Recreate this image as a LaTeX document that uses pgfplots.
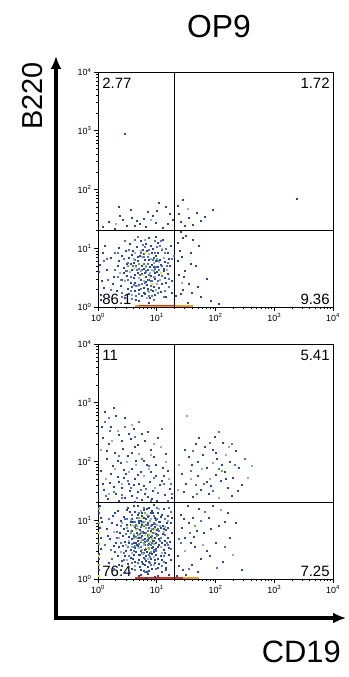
\documentclass[border=0pt]{standalone}
\usepackage{pgfplots}
\pgfplotsset{compat=1.18}
\usetikzlibrary{arrows.meta}
\usepackage{fontspec}
\setmainfont{Liberation Sans}
\definecolor{dk}{HTML}{2A45A8}
\definecolor{md}{HTML}{5570C2}
\definecolor{lt}{HTML}{97A8D6}
\definecolor{gr}{HTML}{5CC23A}
\definecolor{ye}{HTML}{F2E21C}
\definecolor{rd}{HTML}{E0301E}
\definecolor{orr}{HTML}{F0A020}
\newcommand{\tl}[1]{10\textsuperscript{#1}}
\tikzset{
  ql/.style={font=\fontsize{15}{16}\selectfont, fill=white, inner sep=1.2bp},
}
\pgfplotsset{
  pt/.style={only marks, mark=square*, mark size=0.5bp, color=#1, fill=#1, mark options={draw=none, fill=#1}},
  fc/.style={
    width=235bp, height=235bp, scale only axis,
    xmin=0, xmax=4, ymin=0, ymax=4,
    xtick={0,1,2,3,4}, ytick={0,1,2,3,4},
    xticklabels={\tl{0},\tl{1},\tl{2},\tl{3},\tl{4}},
    yticklabels={\tl{0},\tl{1},\tl{2},\tl{3},\tl{4}},
    minor xtick={0.301,0.477,0.602,0.699,0.778,0.845,0.903,0.954,1.301,1.477,1.602,1.699,1.778,1.845,1.903,1.954,2.301,2.477,2.602,2.699,2.778,2.845,2.903,2.954,3.301,3.477,3.602,3.699,3.778,3.845,3.903,3.954},
    minor ytick={0.301,0.477,0.602,0.699,0.778,0.845,0.903,0.954,1.301,1.477,1.602,1.699,1.778,1.845,1.903,1.954,2.301,2.477,2.602,2.699,2.778,2.845,2.903,2.954,3.301,3.477,3.602,3.699,3.778,3.845,3.903,3.954},
    xtick pos=bottom, ytick pos=left, tick align=outside,
    major tick length=4bp, minor tick length=2.2bp,
    every tick/.style={black, line width=0.6bp},
    axis line style={black, line width=0.8bp},
    tick label style={font=\fontsize{9}{10}\selectfont},
    xticklabel style={yshift=1bp},
    yticklabel style={xshift=1bp},
    clip=false,
  },
}
\begin{document}
\begin{tikzpicture}[x=1bp,y=1bp]
\useasboundingbox (0,0) rectangle (348,677);
% ---------------- top panel ----------------
\begin{axis}[fc, at={(98bp,370bp)}, anchor=south west]
\addplot[orr, line width=1.6bp] coordinates {(0.63,0.015)(1.62,0.015)};
\addplot[rd, line width=0.7bp] coordinates {(0.70,0.02)(1.30,0.02)};
\addplot[pt=dk] coordinates {
(0.62,0.55)(0.91,0.72)(0.78,0.33)(1.05,0.81)(0.44,0.67)(0.83,0.95)(0.97,0.48)(0.71,0.88)(1.12,0.62)(0.56,0.41)
(0.88,0.15)(0.66,1.02)(1.01,1.10)(0.35,0.79)(0.79,0.58)(0.93,0.27)(1.18,0.93)(0.52,0.22)(0.74,0.71)(1.08,0.39)
(0.27,0.51)(0.85,0.64)(0.99,0.87)(0.61,0.76)(0.47,0.95)(1.15,0.18)(0.69,0.29)(0.90,1.05)(0.81,0.43)(1.22,0.71)
(0.39,0.36)(0.76,0.98)(0.58,0.63)(1.03,0.55)(0.86,0.81)(0.64,0.12)(0.95,0.69)(0.21,0.84)(1.10,1.15)(0.73,0.47)
(0.48,0.73)(0.84,0.31)(1.26,0.45)(0.68,0.85)(0.96,0.58)(0.54,1.08)(0.80,0.22)(1.14,0.77)(0.31,0.28)(0.92,0.92)
(0.77,0.66)(1.06,0.26)(0.60,0.50)(0.87,1.18)(0.43,0.58)(1.19,0.57)(0.70,0.38)(0.98,0.78)(0.15,0.64)(0.82,0.52)
(0.57,0.89)(1.02,0.68)(0.75,0.19)(0.89,0.44)(0.36,1.01)(1.09,0.97)(0.65,0.70)(0.94,0.35)(0.50,0.31)(1.23,1.04)
(0.79,0.80)(0.62,0.27)(1.00,0.60)(0.41,0.47)(0.86,0.08)(0.72,1.12)(1.16,0.41)(0.55,0.74)(0.93,1.00)(0.25,0.40)
(0.83,0.38)(1.07,0.72)(0.67,0.59)(0.46,0.15)(0.97,0.21)(0.78,0.91)(1.20,0.83)(0.59,0.96)(0.90,0.53)(0.33,0.70)
(1.13,0.50)(0.74,0.56)(0.52,0.84)(0.99,1.20)(0.88,0.69)(0.63,0.42)(1.04,0.33)(0.40,0.88)(0.81,1.07)(0.70,0.10)
(0.95,0.84)(0.57,0.34)(1.25,0.25)(0.85,0.47)(0.19,0.18)(0.68,0.79)(1.11,0.66)(0.49,0.53)(0.77,0.24)(1.01,0.93)
(0.06,0.45)(0.03,0.72)(0.04,0.21)(0.08,0.93)(0.02,0.60)(0.10,0.33)(0.12,1.05)(0.05,0.12)
(0.08,1.37)(0.42,1.48)(0.55,1.66)(0.71,1.42)(0.93,1.55)(1.04,1.78)(0.28,1.33)(0.77,1.51)(1.15,1.71)(0.62,1.38)
(0.98,1.44)(1.22,1.58)(0.48,1.39)(0.85,1.62)(0.66,1.47)(1.10,1.35)(0.37,1.56)(1.27,1.49)(0.45,2.95)
(0.18,1.45)(0.58,1.52)(0.82,1.36)(1.00,1.64)(0.35,1.70)(1.19,1.42)
(1.35,1.72)(1.41,1.45)(1.55,1.52)(1.68,1.61)(1.47,1.38)(1.82,1.54)(1.62,1.40)(1.38,1.58)(1.95,1.66)(1.75,1.47)
(3.38,1.85)(1.45,1.83)
(1.35,1.10)(1.42,0.85)(1.50,1.22)(1.38,0.55)(1.58,0.92)(1.66,0.71)(1.45,0.30)(1.72,1.05)(1.33,0.20)(1.55,0.40)
(1.40,1.28)(1.62,1.15)(1.36,0.78)(1.48,0.62)(1.75,0.18)(1.85,0.48)(1.52,0.08)(1.39,0.95)(1.60,0.25)(1.44,1.18)
(2.05,0.05)(1.92,0.10)(1.46,0.52)(1.57,0.74)(1.40,0.22)(1.70,0.34)
};
\addplot[pt=md] coordinates {
(0.66,0.63)(0.84,0.86)(0.97,0.66)(0.75,0.40)(1.09,0.53)(0.59,0.71)(0.90,0.30)(0.79,1.03)(1.14,0.92)(0.51,0.46)
(0.70,0.22)(1.02,0.79)(0.87,0.55)(0.44,0.83)(1.20,0.35)(0.62,1.15)(0.95,0.12)(0.78,0.74)(0.33,0.52)(1.06,1.12)
(0.55,0.28)(0.82,0.61)(1.17,0.70)(0.73,0.92)(0.92,0.45)(0.29,0.92)(0.64,0.37)(1.00,1.02)(0.86,0.20)(0.48,0.62)
(0.17,0.46)(0.09,0.79)(1.28,0.88)(0.40,0.24)(0.68,1.20)
(0.22,0.30)(0.34,0.93)(0.41,0.18)(0.47,0.62)(0.53,0.98)(0.58,0.14)(0.63,0.80)(0.69,0.65)(0.73,0.31)(0.76,1.06)
(0.80,0.41)(0.84,0.74)(0.87,0.97)(0.91,0.20)(0.94,0.52)(0.98,0.68)(1.02,0.24)(1.05,1.04)(1.09,0.70)(1.13,0.28)
(1.16,1.00)(1.21,0.48)(1.25,0.82)(0.14,0.82)(0.28,0.64)(0.38,0.46)(0.51,0.76)(0.56,0.52)(0.65,0.20)(0.71,0.55)
(0.78,0.86)(0.82,0.60)(0.89,0.36)(0.93,0.81)(0.97,1.13)(1.01,0.45)(1.07,0.58)(1.11,0.17)(1.18,0.75)(0.45,1.12)
(0.60,0.38)(0.75,0.63)(0.86,0.46)(0.96,0.92)(1.04,0.64)
};
\addplot[pt=lt] coordinates {
(0.73,0.62)(0.88,0.58)(0.95,0.75)(0.60,0.82)(1.05,0.46)(0.81,0.70)(0.69,0.50)(0.92,0.63)(1.00,0.40)(0.54,0.60)
(0.77,0.45)(0.86,0.90)(1.12,0.84)(0.64,0.68)(0.99,0.30)(0.72,0.96)(0.83,0.16)(0.58,0.21)(1.08,1.00)(0.90,0.82)
(0.45,0.44)(1.17,0.64)(0.80,1.15)(0.67,0.36)(0.96,0.52)(0.37,0.59)(1.03,0.77)(0.75,0.85)(0.87,0.26)(0.62,0.92)
(0.30,1.42)(0.90,1.48)(1.52,1.68)(1.43,0.42)
};
\addplot[pt=gr] coordinates {(0.82,0.68)(0.95,0.61)(0.70,0.74)(1.00,0.83)(0.50,0.70)(0.85,0.28)};
\addplot[pt=ye] coordinates {(0.88,0.50)(0.76,0.55)(0.60,0.65)(0.91,0.40)(1.06,0.59)(0.79,0.93)};
\draw[black, line width=0.9bp] (axis cs:1.301,0) -- (axis cs:1.301,4);
\draw[black, line width=0.9bp] (axis cs:0,1.301) -- (axis cs:4,1.301);
\node[ql, anchor=north west] at (rel axis cs:0,1) [xshift=3bp, yshift=-5bp] {2.77};
\node[ql, anchor=north east] at (rel axis cs:1,1) [xshift=-2bp, yshift=-5bp] {1.72};
\node[ql, anchor=south west] at (rel axis cs:0,0) [xshift=3bp, yshift=0.5bp] {86.1};
\node[ql, anchor=south east] at (rel axis cs:1,0) [xshift=-2bp, yshift=0.5bp] {9.36};
\end{axis}
% ---------------- bottom panel ----------------
\begin{axis}[fc, at={(98bp,98bp)}, anchor=south west]
\addplot[orr, line width=1.6bp] coordinates {(0.63,0.015)(1.72,0.015)};
\addplot[rd, line width=1.6bp] coordinates {(0.63,0.015)(1.45,0.015)};
\addplot[pt=dk] coordinates {
(0.71,0.84)(0.95,0.66)(0.58,1.02)(0.83,0.47)(1.10,0.91)(0.42,0.73)(0.77,1.18)(0.66,0.58)(1.02,0.35)(0.88,0.99)
(0.31,0.92)(0.74,0.29)(1.19,0.70)(0.53,0.61)(0.90,0.80)(0.62,1.14)(0.99,0.52)(0.80,0.69)(0.46,0.40)(1.06,1.06)
(0.69,0.95)(0.85,0.21)(0.36,0.55)(1.14,0.44)(0.57,0.82)(0.93,1.12)(0.72,0.63)(0.25,1.08)(1.01,0.76)(0.78,0.37)
(0.50,1.21)(0.87,0.88)(0.64,0.46)(1.23,0.96)(0.40,0.31)(0.81,1.03)(0.96,0.27)(0.60,0.74)(1.08,0.62)(0.75,0.93)
(0.20,0.68)(0.92,0.43)(0.68,1.25)(1.16,0.84)(0.55,0.50)(0.84,0.75)(0.98,1.01)(0.43,0.86)(0.73,0.15)(1.04,0.58)
(0.63,0.89)(0.89,0.34)(0.34,1.17)(1.20,0.53)(0.76,0.81)(0.51,0.26)(0.94,0.94)(0.70,0.70)(1.12,1.19)(0.28,0.46)
(0.86,0.60)(0.59,0.97)(1.00,0.84)(0.79,0.24)(0.45,0.64)(1.09,0.32)(0.66,0.79)(0.91,1.16)(0.38,1.00)(0.82,0.52)
(1.18,1.08)(0.56,0.36)(0.97,0.71)(0.74,1.07)(0.14,0.85)(0.88,0.45)(0.61,0.61)(1.05,0.98)(0.48,0.93)(0.83,0.12)
(0.72,0.49)(1.13,0.66)(0.33,0.39)(0.95,0.86)(0.67,1.10)(0.80,0.58)(0.52,0.72)(1.02,0.19)(0.87,1.22)(0.41,0.22)
(0.77,0.90)(1.25,0.78)(0.60,0.42)(0.93,0.55)(0.23,0.96)(0.70,0.33)(1.07,0.87)(0.85,0.67)(0.54,1.15)(0.99,0.41)
(0.65,0.85)(0.30,0.62)(1.15,0.27)(0.78,1.04)(0.47,0.49)(0.90,0.72)(0.73,0.08)(1.11,0.50)(0.58,0.68)(0.84,0.96)
(0.18,0.28)(0.96,1.05)(0.68,0.57)(1.22,0.63)(0.44,1.06)(0.81,0.40)(1.03,0.69)(0.62,0.30)(0.89,0.83)(0.37,0.78)
(0.75,0.74)(1.17,0.95)(0.57,0.18)(0.94,0.47)(0.70,1.00)(0.50,0.83)(1.01,1.13)(0.86,0.30)(0.27,0.57)(0.79,0.64)
(1.10,0.77)(0.63,0.53)(0.92,0.92)(0.39,0.16)(0.83,1.19)(0.71,0.42)(1.21,0.41)(0.55,0.92)(0.98,0.61)(0.76,0.26)
(0.02,0.35)(0.03,0.88)(0.01,1.12)(0.04,0.52)(0.02,0.15)(0.05,0.70)(0.03,1.25)(0.06,0.98)(0.02,0.43)(0.04,1.04)
(0.70,0.05)(0.85,0.09)(0.96,0.04)(1.08,0.12)(1.20,0.07)(0.77,0.14)(0.91,0.17)(1.15,0.20)(1.02,0.06)(0.82,0.03)
(0.16,0.74)(0.29,1.13)(0.35,0.24)(0.42,0.57)(0.49,1.18)(0.53,0.12)(0.59,0.35)(0.61,1.24)(0.67,0.66)(0.71,0.21)
(0.75,1.12)(0.78,0.79)(0.82,0.31)(0.84,1.06)(0.87,0.70)(0.91,0.53)(0.94,1.27)(0.97,0.33)(0.99,0.77)(1.03,0.97)
(1.06,0.40)(1.09,1.10)(1.13,0.58)(1.16,0.15)(1.19,0.88)(1.23,0.32)(1.26,1.05)(0.45,0.11)(0.56,0.98)(0.64,0.62)
(0.69,0.42)(0.73,0.99)(0.80,0.50)(0.86,0.14)(0.89,1.12)(0.93,0.65)(0.96,0.89)(1.01,0.55)(1.04,0.26)(1.11,0.85)
(0.12,2.85)(0.30,2.78)(0.45,2.74)(0.22,2.60)(0.60,2.55)(0.08,2.40)(0.36,2.45)(0.75,2.48)(0.55,2.38)(0.18,2.30)
(0.42,2.22)(0.68,2.28)(0.90,2.20)(0.28,2.15)(0.80,2.35)(1.02,2.40)(0.50,2.10)(0.15,2.05)(0.65,2.02)(0.95,2.08)
(0.38,1.98)(0.83,1.95)(1.10,1.90)(0.25,1.92)(0.58,1.88)(0.72,1.82)(0.05,1.85)(0.47,1.80)(0.98,1.76)(1.18,1.84)
(0.33,1.74)(0.63,1.70)(0.88,1.66)(0.20,1.64)(0.52,1.62)(1.05,1.60)(0.77,1.58)(0.41,1.55)(0.10,1.52)(0.93,1.50)
(1.22,1.54)(0.68,1.48)(0.30,1.45)(0.57,1.42)(0.85,1.40)(1.13,1.44)(0.46,1.38)(0.74,1.35)(0.17,1.36)(1.00,1.33)
(0.62,1.32)(0.92,1.36)(0.36,1.34)(1.26,1.38)(0.80,1.46)(0.54,1.51)(0.26,1.57)(0.70,1.62)(1.08,1.68)(0.44,1.72)
(0.06,2.60)(0.27,2.92)(0.40,2.35)(0.52,2.48)(0.63,2.25)(0.85,2.50)(0.15,2.18)(0.33,2.02)(0.57,2.15)(0.78,2.02)
(0.98,1.94)(1.16,2.14)(0.21,1.80)(0.43,1.86)(0.67,1.78)(0.90,1.82)(1.12,1.76)(0.08,1.62)(0.35,1.66)(0.60,1.60)
(1.85,1.90)(2.02,2.05)(1.70,1.75)(2.15,1.82)(1.95,2.20)(1.60,1.95)(2.25,2.00)(1.78,2.12)(2.08,1.68)(1.50,1.62)
(1.92,1.58)(2.30,1.72)(1.66,2.30)(2.12,2.32)(1.42,1.80)(1.88,1.45)(2.40,1.90)(1.74,1.52)(2.20,1.55)(1.55,2.08)
(2.00,1.78)(1.82,2.25)(2.35,2.18)(1.62,1.40)(2.10,1.95)(1.98,2.42)(1.46,1.48)(2.28,1.42)(1.70,2.00)(2.45,1.60)
(1.72,2.40)(2.00,2.15)(2.18,1.70)(1.48,2.20)(2.38,1.50)(1.85,1.65)
(1.40,1.10)(1.55,0.95)(1.72,1.20)(1.88,1.05)(2.05,0.90)(1.48,0.70)(1.65,0.55)(1.80,0.78)(1.95,1.25)(2.20,1.12)
(1.36,0.40)(1.60,0.25)(1.75,0.35)(2.00,0.62)(2.35,0.95)(1.45,0.15)(1.52,1.25)(1.85,0.48)(1.68,0.82)(2.12,0.30)
(1.42,0.88)(1.58,0.62)(1.92,0.85)(2.25,0.70)(1.34,0.05)(1.50,0.08)(1.70,0.12)(1.38,0.22)(2.45,0.15)(1.62,1.05)
(1.46,1.02)(1.63,0.72)(1.90,0.40)(2.15,0.98)
};
\addplot[pt=md] coordinates {
(0.68,0.76)(0.81,0.92)(0.92,0.62)(0.57,0.60)(1.04,0.83)(0.73,0.55)(0.87,1.08)(0.62,0.97)(0.98,0.48)(0.79,0.35)
(1.13,1.02)(0.47,0.77)(0.85,0.83)(0.70,1.13)(0.95,0.96)(0.53,0.39)(1.07,0.71)(0.76,0.67)(0.39,0.90)(0.90,0.24)
(0.64,0.72)(1.18,0.58)(0.83,0.65)(0.58,1.10)(1.00,1.22)(0.74,0.44)(0.32,0.70)(0.93,0.78)(0.67,0.28)(1.11,0.39)
(0.49,1.03)(0.86,0.41)(0.61,0.49)(0.97,0.94)(0.22,0.50)(0.78,1.21)(1.24,1.15)(0.44,0.32)(0.89,0.58)(0.72,0.89)
(0.24,0.35)(0.32,0.81)(0.38,0.62)(0.46,1.02)(0.51,0.55)(0.55,0.80)(0.62,0.16)(0.66,1.05)(0.70,0.60)(0.77,0.44)
(0.81,0.78)(0.85,0.92)(0.88,0.27)(0.92,0.74)(0.95,0.50)(1.00,1.03)(1.05,0.66)(1.08,0.22)(1.14,0.76)(1.20,1.22)
(0.11,0.58)(0.19,1.02)(0.27,0.18)(0.43,0.45)(0.58,0.27)(0.65,0.93)(0.73,0.71)(0.79,0.12)(0.84,0.58)(0.90,0.90)
(0.98,0.17)(1.02,0.86)(1.12,0.30)(1.17,0.62)(1.24,0.51)(0.60,0.55)(0.76,0.97)(0.88,0.38)(0.94,1.08)(0.71,0.77)
(0.35,2.10)(0.62,2.42)(0.87,1.92)(0.20,2.52)(1.12,1.62)(0.56,1.56)(0.74,2.05)(0.40,1.38)(1.25,1.46)(0.11,2.68)
(0.82,1.54)(1.02,1.47)(1.24,1.62)(0.13,1.42)(0.40,1.44)(0.66,1.38)(0.89,1.33)(1.18,1.34)(0.50,1.68)(0.73,1.52)
(0.26,1.48)(0.95,1.72)(0.46,2.60)(0.70,2.68)(0.18,2.75)(1.08,2.55)
(1.80,1.62)(2.05,1.88)(1.62,2.18)(2.32,1.95)(1.90,2.32)(1.68,1.45)(1.56,0.78)(1.82,1.15)(2.15,0.55)(1.40,0.62)
(2.05,2.50)(1.58,1.85)(2.50,2.05)(1.96,1.50)(2.28,2.30)(1.66,1.60)
(1.55,0.18)(1.75,1.00)(2.02,0.20)(1.38,0.68)
};
\addplot[pt=lt] coordinates {
(0.74,0.78)(0.88,0.64)(0.60,0.90)(1.00,0.92)(0.69,0.53)(0.83,1.10)(0.52,0.66)(0.95,0.38)(0.78,0.59)(1.12,0.80)
(0.41,0.95)(0.66,0.71)(0.90,1.02)(0.58,0.44)(1.06,0.55)(0.81,0.87)(0.35,0.70)(0.72,1.16)(0.97,0.79)(0.63,0.23)
(0.86,0.51)(1.18,1.00)(0.47,0.58)(0.76,0.43)(1.03,1.20)(0.55,1.01)(0.92,0.68)(0.68,0.86)(0.26,0.80)(0.84,0.35)
(1.09,0.45)(0.61,0.77)(0.79,0.97)(0.49,0.33)(0.94,0.24)(0.73,0.65)(1.14,0.89)(0.57,0.55)(0.87,0.76)(0.39,0.47)
(0.95,2.30)(0.58,2.62)(0.33,2.52)(0.86,1.87)(0.13,1.70)(0.70,2.14)(1.15,2.00)(0.48,2.00)(0.05,2.20)(0.24,2.35)
(0.78,1.75)(0.40,1.62)(0.97,1.55)(0.64,1.95)(0.18,1.45)(1.20,1.70)(0.52,1.83)(0.89,2.12)(0.29,1.88)(1.06,2.25)
(1.38,1.95)(2.05,1.38)(1.90,1.70)(2.18,2.12)(1.58,1.70)(2.55,1.72)(1.35,1.52)(1.76,1.88)(2.62,1.92)(1.51,2.78)
(2.22,2.25)(1.95,1.98)(2.08,1.18)(1.78,0.58)(2.30,0.42)(1.47,0.48)
};
\addplot[pt=gr] coordinates {
(0.72,0.80)(0.85,0.72)(0.66,0.91)(0.92,0.85)(0.78,0.62)(0.60,0.70)(0.88,0.99)(0.75,0.50)(1.00,0.74)(0.69,1.04)
(0.82,0.88)(0.56,0.78)(0.95,0.60)(0.79,1.12)(0.63,0.57)(0.90,0.46)(0.74,0.95)(1.05,0.90)(0.48,0.88)(0.86,0.54)
(0.01,0.25)(0.01,0.60)(0.02,0.95)(0.01,1.20)(2.10,1.85)(1.65,0.90)
};
\addplot[pt=ye] coordinates {
(0.80,0.76)(0.71,0.66)(0.90,0.79)(0.77,0.92)(0.64,0.84)(0.86,0.63)(0.97,0.86)(0.69,0.73)(0.83,0.54)(0.74,1.05)
(0.58,0.92)(0.93,0.70)(0.01,0.05)(0.01,0.40)(0.01,0.78)
};
\draw[black, line width=0.9bp] (axis cs:1.301,0) -- (axis cs:1.301,4);
\draw[black, line width=0.9bp] (axis cs:0,1.301) -- (axis cs:4,1.301);
\node[ql, anchor=north west] at (rel axis cs:0,1) [xshift=3bp, yshift=-5bp] {11};
\node[ql, anchor=north east] at (rel axis cs:1,1) [xshift=-2bp, yshift=-5bp] {5.41};
\node[ql, anchor=south west] at (rel axis cs:0,0) [xshift=3bp, yshift=0.5bp] {76.4};
\node[ql, anchor=south east] at (rel axis cs:1,0) [xshift=-2bp, yshift=0.5bp] {7.25};
\end{axis}
% ---------------- decorations ----------------
\draw[line width=3.2bp, -{Latex[length=13bp,width=11bp]}] (56,59) -- (56,621);
\draw[line width=3.2bp, -{Latex[length=13bp,width=11bp]}] (54.4,59) -- (346,59);
\node[rotate=90, font=\fontsize{29}{30}\selectfont, inner sep=0pt] at (33,581) {B220};
\node[font=\fontsize{32}{34}\selectfont, inner sep=0pt] at (219,650) {OP9};
\node[font=\fontsize{31}{33}\selectfont, inner sep=0pt, anchor=east] at (341,25) {CD19};
\end{tikzpicture}
\end{document}
